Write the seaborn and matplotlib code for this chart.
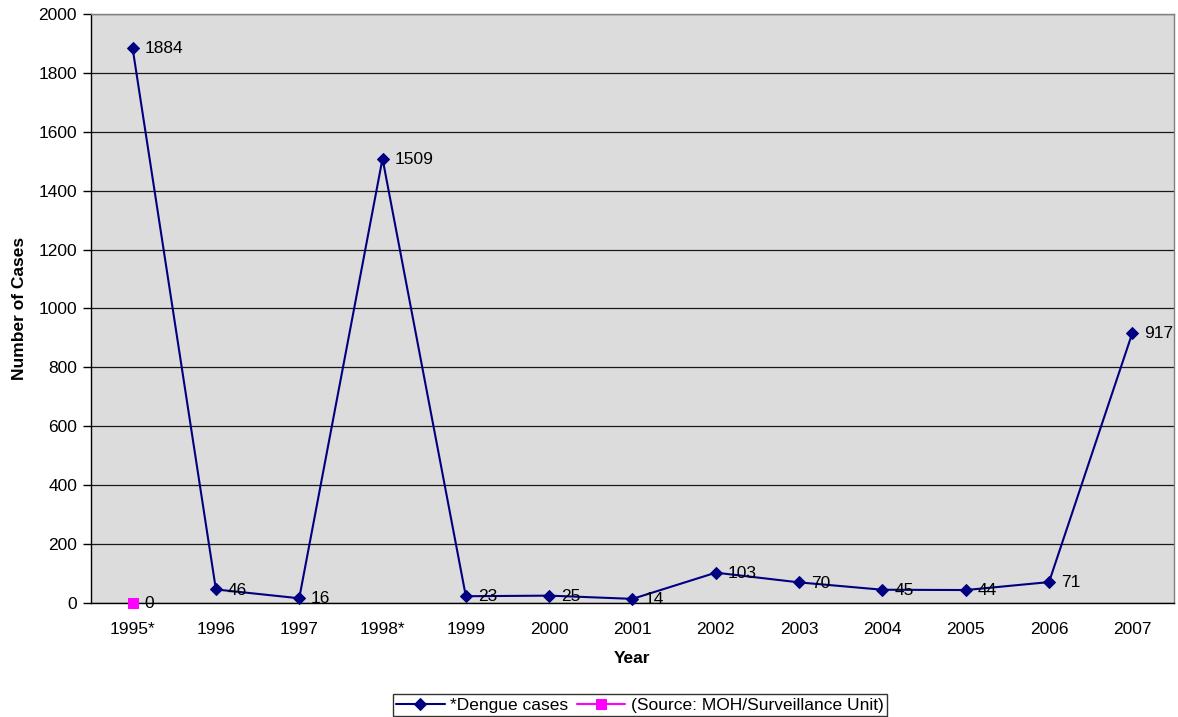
import matplotlib
matplotlib.use("Agg")
import matplotlib.pyplot as plt
import seaborn as sns
import pandas as pd
import numpy as np

years = ["1995*", "1996", "1997", "1998*", "1999", "2000", "2001",
         "2002", "2003", "2004", "2005", "2006", "2007"]
dengue_cases = [1884, 46, 16, 1509, 23, 25, 14, 103, 70, 45, 44, 71, 917]
source_years = ["1995*"]
source_values = [0]

sns.set_theme(style="white")
plt.rcParams["font.family"] = ["Liberation Sans", "DejaVu Sans"]
plt.rcParams["text.color"] = "black"
plt.rcParams["axes.labelcolor"] = "black"
plt.rcParams["xtick.color"] = "black"
plt.rcParams["ytick.color"] = "black"

FS = 12.5

fig = plt.figure(figsize=(11.78, 7.17), dpi=100)
ax = fig.add_axes([0.0772, 0.159, 0.9194, 0.8215])
ax.set_facecolor("#dcdcdc")

pos = {y: i for i, y in enumerate(years)}
df = pd.DataFrame({"x": [pos[y] for y in years], "cases": dengue_cases})
src = pd.DataFrame({"x": [pos[y] for y in source_years], "cases": source_values})

sns.lineplot(data=df, x="x", y="cases", ax=ax, color="#000080", lw=1.5,
             marker="D", markersize=6.5, markeredgecolor="#000080",
             label="*Dengue cases", zorder=4, clip_on=False)
sns.lineplot(data=src, x="x", y="cases", ax=ax, color="#ff00ff", lw=1.5,
             marker="s", markersize=7.5, markeredgecolor="#ff00ff",
             label="(Source: MOH/Surveillance Unit)", zorder=5, clip_on=False)

for x, v in zip(df["x"], df["cases"]):
    ax.annotate(str(v), (x, v), xytext=(8.5, -0.5), textcoords="offset points",
                ha="left", va="center", fontsize=FS, color="black", zorder=6)
for x, v in zip(src["x"], src["cases"]):
    ax.annotate(str(v), (x, v), xytext=(8.5, -0.5), textcoords="offset points",
                ha="left", va="center", fontsize=FS, color="black", zorder=6)

ax.set_xlim(-0.5, len(years) - 0.5)
ax.set_ylim(0, 2000)
ax.set_yticks(range(0, 2001, 200))
ax.yaxis.grid(True, color="#1a1a1a", lw=0.9)
ax.set_axisbelow(True)

ax.set_xticks(range(len(years)))
ax.set_xticklabels(years)
ax.set_xticks(np.arange(-0.5, len(years), 1), minor=True)
ax.tick_params(axis="x", which="major", length=0, pad=14, labelsize=FS)
ax.tick_params(axis="x", which="minor", length=6, width=1, color="black", direction="out")
ax.tick_params(axis="y", length=6, width=1, color="black", direction="out",
               left=True, labelsize=FS, pad=4)

for side in ["left", "bottom"]:
    ax.spines[side].set_color("black")
    ax.spines[side].set_linewidth(1)
for side in ["top", "right"]:
    ax.spines[side].set_color("#808080")
    ax.spines[side].set_linewidth(1)

ax.set_xlabel("Year", fontsize=FS, fontweight="bold", labelpad=10)
ax.set_ylabel("Number of Cases", fontsize=FS, fontweight="bold", labelpad=8)

handles, labels = ax.get_legend_handles_labels()
ax.legend_.remove()
leg = fig.legend(handles, labels, loc="center", bbox_to_anchor=(0.543, 0.0165),
                 ncol=2, frameon=True, fancybox=False, fontsize=FS,
                 handlelength=2.8, columnspacing=0.5, handletextpad=0.3,
                 borderpad=0.2, borderaxespad=0)
leg.get_frame().set_edgecolor("black")
leg.get_frame().set_linewidth(1)

fig.savefig("out.png", dpi=100)
